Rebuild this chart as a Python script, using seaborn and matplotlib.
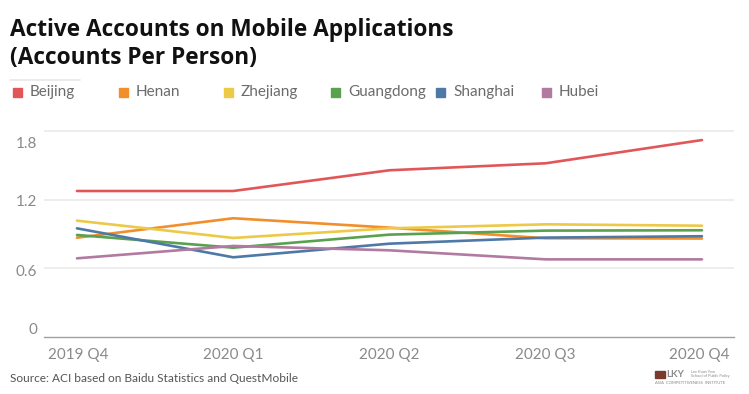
import matplotlib
matplotlib.use("Agg")
import matplotlib.pyplot as plt
import matplotlib.transforms as mtransforms
from matplotlib.patches import Rectangle
from matplotlib.lines import Line2D
import seaborn as sns
import pandas as pd

# ---- data ----
quarters = ["2019 Q4", "2020 Q1", "2020 Q2", "2020 Q3", "2020 Q4"]
provinces = ["Beijing", "Henan", "Zhejiang", "Guangdong", "Shanghai", "Hubei"]
beijing   = [1.275, 1.275, 1.456, 1.517, 1.72]
henan     = [0.867, 1.037, 0.955, 0.862, 0.860]
zhejiang  = [1.016, 0.865, 0.949, 0.984, 0.972]
guangdong = [0.891, 0.780, 0.894, 0.929, 0.932]
shanghai  = [0.949, 0.696, 0.815, 0.868, 0.880]
hubei     = [0.687, 0.795, 0.757, 0.678, 0.678]
yticks = [0, 0.6, 1.2, 1.8]
ytick_labels = ["0", "0.6", "1.2", "1.8"]
colors = ["#E15759", "#F28E2B", "#EDC948", "#59A14F", "#4E79A7", "#B07AA1"]

series = [beijing, henan, zhejiang, guangdong, shanghai, hubei]
rows = []
for name, vals in zip(provinces, series):
    for i, v in enumerate(vals):
        rows.append({"province": name, "idx": i, "value": v})
df = pd.DataFrame(rows)

sns.set_theme(style="white")
plt.rcParams["font.family"] = ["Lato", "DejaVu Sans"]

W, H = 749, 394
fig = plt.figure(figsize=(W / 100, H / 100), dpi=100)

def fx(px):
    return px / W

def fy(py):
    return 1 - py / H

ax_left, ax_right, ax_top, ax_bottom = 44, 734, 113.7, 337
ax = fig.add_axes([fx(ax_left), fy(ax_bottom), fx(ax_right - ax_left), (ax_bottom - ax_top) / H])

palette = dict(zip(provinces, colors))
sns.lineplot(data=df, x="idx", y="value", hue="province", palette=palette,
             hue_order=provinces, linewidth=1.9, legend=False, ax=ax, sort=False)

ax.set_xlim(-0.211, 4.205)
ax.set_ylim(0, 1.95)
ax.set_xlabel("")
ax.set_ylabel("")
for y in yticks[1:]:
    ax.axhline(y, color="#ececec", linewidth=1.3, zorder=0)
for s in ["top", "right", "left"]:
    ax.spines[s].set_visible(False)
ax.spines["bottom"].set_color("#a0a0a0")
ax.spines["bottom"].set_linewidth(1.0)

ax.set_yticks(yticks)
ax.set_yticklabels(ytick_labels)
ax.set_xticks(range(len(quarters)))
ax.set_xticklabels(quarters)
ax.tick_params(axis="both", length=0, labelsize=11, labelcolor="#8a8a8a")
ax.tick_params(axis="y", pad=5)
ax.tick_params(axis="x", pad=8)

# Tableau-like label offsets
xl = ax.get_xticklabels()
xl[0].set_ha("left")
xl[0].set_transform(xl[0].get_transform() + mtransforms.ScaledTranslation(-29 / 100, 0, fig.dpi_scale_trans))
xl[-1].set_ha("right")
xl[-1].set_transform(xl[-1].get_transform() + mtransforms.ScaledTranslation(28 / 100, 0, fig.dpi_scale_trans))
yoffs = [9, -2, -1, -12]
for lab, off in zip(ax.get_yticklabels(), yoffs):
    lab.set_transform(lab.get_transform() + mtransforms.ScaledTranslation(0, off / 100, fig.dpi_scale_trans))

# ---- title ----
title_font = ["Open Sans", "DejaVu Sans"]
fig.text(fx(10), fy(35.5), "Active Accounts on Mobile Applications", fontsize=16.3,
         fontweight="bold", family=title_font, color="#111111", va="baseline", ha="left")
fig.text(fx(10), fy(64), "(Accounts Per Person)", fontsize=16.3,
         fontweight="bold", family=title_font, color="#111111", va="baseline", ha="left")
fig.add_artist(Line2D([fx(10), fx(80)], [fy(80), fy(80)], color="#e8e8e8", linewidth=1.2,
                      transform=fig.transFigure))

# ---- legend ----
sq_x = [13, 119, 224, 331, 436, 542]
for x0, name, c in zip(sq_x, provinces, colors):
    fig.add_artist(Rectangle((fx(x0), fy(96.5)), fx(9), 9 / H, color=c, transform=fig.transFigure))
    fig.text(fx(x0 + 17), fy(92), name, fontsize=11, color="#6b6b6b", va="center", ha="left")

# ---- footer ----
fig.text(fx(10), fy(379), "Source: ACI based on Baidu Statistics and QuestMobile", fontsize=8.6,
         color="#555555", va="center", ha="left")
fig.add_artist(Rectangle((fx(655), fy(377.5)), fx(10), 7 / H, color="#7a3b2e", transform=fig.transFigure))
fig.text(fx(666), fy(374.5), "LKY", fontsize=7, fontweight="bold", color="#8a8a8a", va="center", ha="left")
fig.text(fx(691), fy(372), "Lee Kuan Yew", fontsize=2.8, color="#888888", va="center", ha="left")
fig.text(fx(691), fy(376.5), "School of Public Policy", fontsize=2.8, color="#888888", va="center", ha="left")
fig.text(fx(655), fy(383.5), "ASIA  COMPETITIVENESS  INSTITUTE", fontsize=3.0, color="#888888", va="center", ha="left")

fig.savefig("out.png", dpi=100)
